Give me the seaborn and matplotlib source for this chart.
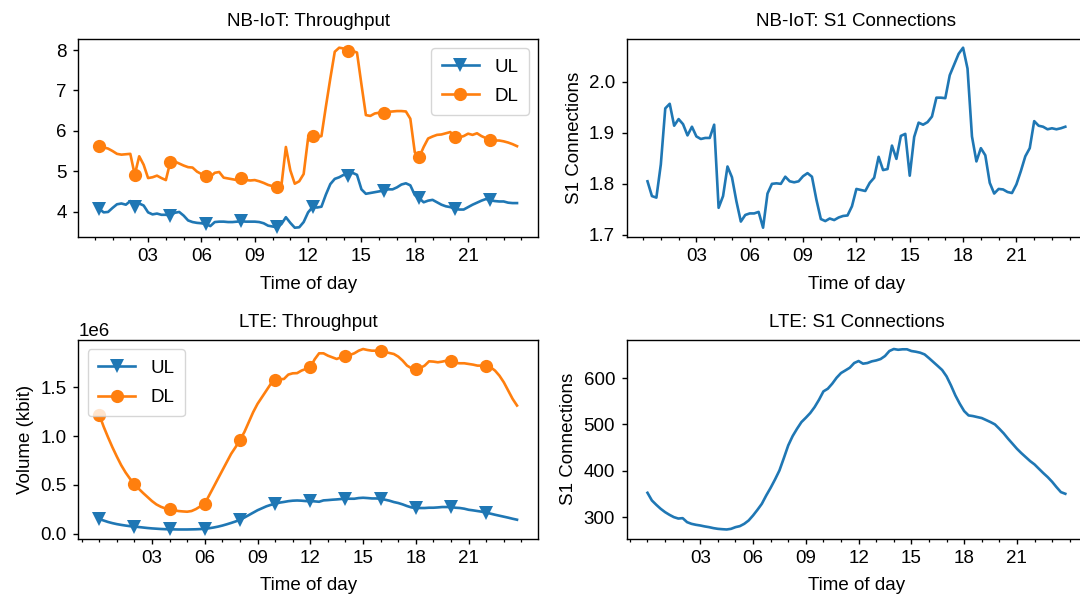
import matplotlib
matplotlib.use("Agg")
import matplotlib.pyplot as plt
import matplotlib.dates as mdates
import numpy as np
import pandas as pd
import seaborn as sns

# ---------------- data ----------------
# NB-IoT samples: every 15 min from 00:15 to 23:45
nb_time = pd.date_range("2021-01-01 00:15", "2021-01-01 23:45", freq="15min")
# LTE samples: every 15 min from 00:00 to 23:45
lte_time = pd.date_range("2021-01-01 00:00", "2021-01-01 23:45", freq="15min")

nb_ul = [4.07, 3.98, 3.99, 4.09, 4.18, 4.20, 4.17, 4.26, 4.11, 4.20, 4.15, 3.98,
         3.93, 3.95, 3.92, 3.92, 3.90, 3.97, 3.99, 3.90, 3.78, 3.74, 3.72, 3.71,
         3.69, 3.64, 3.74, 3.75, 3.75, 3.74, 3.74, 3.75, 3.76, 3.75, 3.75, 3.75,
         3.74, 3.71, 3.65, 3.63, 3.61, 3.69, 3.86, 3.72, 3.60, 3.61, 3.74, 3.98,
         4.11, 4.10, 4.12, 4.42, 4.68, 4.81, 4.85, 4.91, 4.89, 4.96, 4.91, 4.55,
         4.44, 4.46, 4.48, 4.50, 4.52, 4.55, 4.55, 4.60, 4.67, 4.70, 4.65, 4.41,
         4.33, 4.23, 4.27, 4.29, 4.23, 4.17, 4.13, 4.11, 4.07, 4.05, 4.05, 4.11,
         4.17, 4.22, 4.27, 4.31, 4.28, 4.26, 4.25, 4.25, 4.22, 4.21, 4.21]

nb_dl = [5.62, 5.59, 5.56, 5.50, 5.43, 5.41, 5.42, 5.43, 4.91, 5.37, 5.16, 4.83,
         4.85, 4.89, 4.83, 4.78, 5.23, 5.24, 5.19, 5.14, 5.10, 5.09, 4.99, 4.93,
         4.89, 4.86, 4.96, 4.98, 4.84, 4.82, 4.80, 4.78, 4.84, 4.78, 4.77, 4.78,
         4.75, 4.71, 4.66, 4.63, 4.60, 4.65, 5.60, 5.02, 4.69, 4.75, 4.93, 5.82,
         5.87, 5.84, 5.87, 6.60, 7.30, 7.96, 8.06, 8.04, 7.98, 7.98, 7.94, 7.15,
         6.39, 6.37, 6.43, 6.45, 6.45, 6.47, 6.48, 6.49, 6.49, 6.48, 6.30, 5.47,
         5.35, 5.60, 5.81, 5.86, 5.90, 5.91, 5.94, 5.97, 5.84, 5.84, 5.87, 5.93,
         5.90, 5.94, 5.87, 5.82, 5.78, 5.76, 5.76, 5.74, 5.71, 5.67, 5.62]

nb_s1 = [1.805, 1.776, 1.773, 1.838, 1.948, 1.957, 1.914, 1.927, 1.917, 1.895,
         1.912, 1.893, 1.888, 1.890, 1.890, 1.916, 1.753, 1.776, 1.834, 1.813,
         1.766, 1.726, 1.739, 1.742, 1.742, 1.745, 1.714, 1.781, 1.800, 1.801,
         1.800, 1.814, 1.805, 1.803, 1.805, 1.815, 1.821, 1.814, 1.769, 1.731,
         1.727, 1.732, 1.729, 1.734, 1.737, 1.738, 1.756, 1.790, 1.788, 1.786,
         1.802, 1.812, 1.853, 1.827, 1.829, 1.875, 1.849, 1.894, 1.898, 1.816,
         1.892, 1.920, 1.916, 1.921, 1.932, 1.969, 1.969, 1.968, 2.013, 2.034,
         2.055, 2.067, 2.026, 1.893, 1.844, 1.870, 1.856, 1.802, 1.781, 1.790,
         1.789, 1.784, 1.782, 1.799, 1.825, 1.854, 1.870, 1.923, 1.914, 1.912,
         1.907, 1.909, 1.907, 1.909, 1.912]

lte_ul = [0.150, 0.135, 0.120, 0.108, 0.098, 0.090, 0.083, 0.077, 0.073, 0.068,
          0.063, 0.058, 0.054, 0.051, 0.048, 0.046, 0.045, 0.044, 0.043, 0.043,
          0.043, 0.044, 0.045, 0.047, 0.050, 0.056, 0.063, 0.072, 0.083, 0.096,
          0.110, 0.125, 0.143, 0.165, 0.190, 0.215, 0.240, 0.260, 0.280, 0.295,
          0.305, 0.318, 0.325, 0.333, 0.338, 0.340, 0.338, 0.334, 0.334, 0.331,
          0.327, 0.341, 0.344, 0.348, 0.351, 0.355, 0.358, 0.358, 0.358, 0.365,
          0.368, 0.365, 0.361, 0.361, 0.358, 0.348, 0.338, 0.324, 0.314, 0.300,
          0.283, 0.269, 0.263, 0.263, 0.263, 0.266, 0.266, 0.269, 0.273, 0.273,
          0.273, 0.266, 0.263, 0.256, 0.245, 0.239, 0.232, 0.225, 0.215, 0.205,
          0.194, 0.184, 0.174, 0.164, 0.153, 0.143]

lte_dl = [1.221, 1.098, 0.989, 0.886, 0.791, 0.702, 0.627, 0.563, 0.511, 0.460,
          0.416, 0.375, 0.334, 0.300, 0.276, 0.259, 0.252, 0.242, 0.232, 0.228,
          0.225, 0.232, 0.252, 0.280, 0.307, 0.392, 0.477, 0.563, 0.648, 0.733,
          0.818, 0.886, 0.961, 1.040, 1.142, 1.244, 1.330, 1.398, 1.466, 1.534,
          1.575, 1.582, 1.585, 1.630, 1.643, 1.645, 1.671, 1.688, 1.705, 1.787,
          1.848, 1.848, 1.824, 1.807, 1.790, 1.807, 1.817, 1.831, 1.848, 1.875,
          1.892, 1.882, 1.875, 1.875, 1.875, 1.862, 1.851, 1.841, 1.814, 1.773,
          1.722, 1.695, 1.688, 1.698, 1.722, 1.766, 1.763, 1.756, 1.763, 1.773,
          1.773, 1.749, 1.746, 1.746, 1.739, 1.732, 1.722, 1.722, 1.715, 1.705,
          1.671, 1.619, 1.551, 1.466, 1.381, 1.313]

lte_s1 = [352.5, 336.0, 326.6, 318.0, 310.8, 305.0, 300.0, 297.0, 297.8, 289.2,
          285.6, 283.5, 282.0, 280.0, 278.4, 276.3, 274.8, 274.0, 273.4, 274.8,
          278.4, 280.6, 285.6, 292.8, 303.6, 315.8, 328.8, 346.8, 363.3, 381.3,
          400.7, 427.3, 454.7, 474.8, 490.6, 505.0, 514.4, 524.5, 537.4, 553.2,
          571.2, 577.0, 587.8, 600.7, 610.8, 616.5, 622.3, 632.4, 636.7, 631.0,
          632.4, 636.0, 638.0, 641.0, 647.5, 658.3, 662.6, 661.0, 662.0, 662.0,
          658.3, 656.8, 654.7, 651.0, 643.0, 634.5, 626.0, 617.3, 603.6, 584.2,
          562.6, 544.6, 528.8, 519.4, 518.0, 515.8, 513.7, 509.4, 505.0, 500.0,
          490.6, 480.6, 469.0, 458.3, 447.5, 438.1, 429.5, 420.9, 413.7, 404.3,
          395.0, 386.3, 376.3, 364.7, 354.0, 350.4]

lte_scale = 1e6  # LTE throughput values above are in millions of kbit

# ---------------- style ----------------
plt.rcParams["font.family"] = ["Liberation Sans", "DejaVu Sans"]
FS = 13.5
plt.rcParams["font.size"] = FS
plt.rcParams["axes.titlesize"] = FS
plt.rcParams["axes.labelsize"] = FS
plt.rcParams["xtick.labelsize"] = FS
plt.rcParams["ytick.labelsize"] = FS
plt.rcParams["legend.fontsize"] = FS
plt.rcParams["axes.titlepad"] = 9.5
plt.rcParams["xtick.major.pad"] = 4.5
plt.rcParams["ytick.major.pad"] = 4.5
plt.rcParams["axes.linewidth"] = 1.0
plt.rcParams["xtick.major.size"] = 3.8
plt.rcParams["ytick.major.size"] = 3.8
plt.rcParams["xtick.minor.size"] = 2.1
plt.rcParams["xtick.major.width"] = 1.0
plt.rcParams["ytick.major.width"] = 1.0
plt.rcParams["xtick.minor.width"] = 0.9
plt.rcParams["legend.borderpad"] = 0.55
plt.rcParams["legend.labelspacing"] = 0.65

pal = sns.color_palette("tab10")
c_ul, c_dl = pal[0], pal[1]
LW = 1.9
MS = 9.5

fig = plt.figure(figsize=(10.8, 5.99), dpi=100)
W, H = 1080, 599
def pos(l, t, w, h):
    return [l / W, (H - t - h) / H, w / W, h / H]

ax1 = fig.add_axes(pos(78.3, 38.7, 459.6, 198.0))
ax2 = fig.add_axes(pos(626.6, 38.7, 459.6, 198.0))
ax3 = fig.add_axes(pos(78.3, 340.0, 459.6, 198.5))
ax4 = fig.add_axes(pos(626.6, 340.0, 459.6, 198.5))

nb_df = pd.DataFrame({"time": nb_time, "UL": nb_ul, "DL": nb_dl, "S1": nb_s1})
lte_df = pd.DataFrame({"time": lte_time,
                       "UL": np.array(lte_ul) * lte_scale,
                       "DL": np.array(lte_dl) * lte_scale,
                       "S1": lte_s1})

for ax, df in ((ax1, nb_df), (ax3, lte_df)):
    sns.lineplot(data=df, x="time", y="UL", ax=ax, color=c_ul, lw=LW,
                 marker="v", markersize=MS, markevery=8, markeredgewidth=0,
                 label="UL")
    sns.lineplot(data=df, x="time", y="DL", ax=ax, color=c_dl, lw=LW,
                 marker="o", markersize=MS, markevery=8, markeredgewidth=0,
                 label="DL")

sns.lineplot(data=nb_df, x="time", y="S1", ax=ax2, color=c_ul, lw=LW)
sns.lineplot(data=lte_df, x="time", y="S1", ax=ax4, color=c_ul, lw=LW)

ax1.set_title("NB-IoT: Throughput")
ax2.set_title("NB-IoT: S1 Connections")
ax3.set_title("LTE: Throughput")
ax4.set_title("LTE: S1 Connections")

ax1.set_ylabel("")
ax2.set_ylabel("S1 Connections", labelpad=4.5)
ax3.set_ylabel("Volume (kbit)", labelpad=4.5)
ax4.set_ylabel("S1 Connections", labelpad=4.5)

ax1.legend(loc="upper right")
ax3.legend(loc="upper left")

for ax in (ax1, ax2, ax3, ax4):
    ax.set_xlabel("Time of day", labelpad=7.5)
    ax.xaxis.set_major_locator(mdates.HourLocator(byhour=range(3, 22, 3)))
    ax.xaxis.set_minor_locator(mdates.HourLocator())
    ax.xaxis.set_major_formatter(mdates.DateFormatter("%H"))
    ax.grid(False)

ax2.set_yticks([1.7, 1.8, 1.9, 2.0])

fig.savefig("out.png", dpi=100)
